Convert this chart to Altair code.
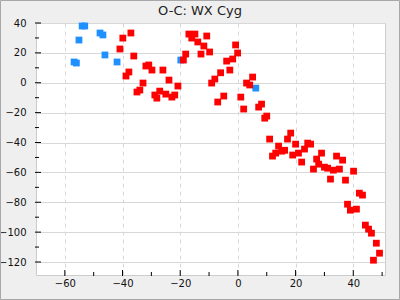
import altair as alt
import pandas as pd

# Blue series (x = cycle/epoch offset, y = O-C)
blue_x = [-56.8, -56.0, -55.1, -54.0, -53.1, -47.8, -46.8, -46.1, -41.9, -19.8, 6.2]
blue_y = [13.9, 13.2, 28.6, 38.0, 38.0, 33.3, 32.0, 18.6, 13.9, 15.2, -3.6]

# Red series
red_x = [-39.9, -37.1, -40.9, -36.1, -37.8, -38.8, -31.9, -30.9, -29.8, -26.0,
         -35.0, -34.0, -32.9, -28.8, -28.1, -27.1, -25.0, -23.9, -22.9, -21.9,
         -20.8, -18.9, -18.1, -17.0, -14.9, -16.0, -13.9, -12.8, -10.8, -11.8,
         -9.8, -0.8, -0.1, -3.9, -1.8, -2.8, -6.0, -8.0, -9.1, 5.1,
         3.0, 4.1, -4.9, -7.0, 1.0, 2.0, 8.2, 7.2, 10.0, 9.3,
         18.3, 11.0, 17.2, 14.1, 16.2, 15.2, 20.0, 24.2, 25.2, 23.1,
         13.1, 12.0, 19.0, 21.0, 22.1, 29.0, 27.3, 28.0, 26.2, 30.0,
         31.1, 34.2, 36.3, 33.1, 35.2, 40.1, 32.1, 37.3, 42.1, 43.2,
         38.0, 39.0, 41.1, 44.2, 45.3, 46.3, 48.0, 49.1, 47.0]
red_y = [29.9, 33.3, 22.6, 17.9, 7.2, 4.5, 11.2, 11.9, 8.5, 8.5,
         -6.2, -4.9, -0.2, -8.2, -10.3, -5.6, -7.6, 1.8, -9.6, -8.2,
         -2.2, 15.2, 19.2, 32.6, 32.6, 29.9, 27.3, 19.2, 31.3, 24.6,
         20.6, 25.3, 19.9, 14.5, 15.9, 8.5, 6.7, 2.5, -0.2, 3.8,
         -0.2, -1.5, -8.9, -12.9, -9.6, -17.6, -14.3, -16.3, -22.3, -23.7,
         -33.7, -37.7, -37.7, -42.4, -45.2, -45.8, -41.1, -40.4, -41.1, -44.4,
         -47.1, -49.1, -48.4, -47.1, -53.1, -47.1, -51.1, -54.5, -57.8, -56.5,
         -57.2, -49.1, -51.8, -58.5, -57.8, -59.2, -64.5, -65.2, -73.9, -75.2,
         -81.3, -85.3, -84.6, -95.3, -98.0, -100.7, -107.4, -114.1, -118.8]

title_text = "O-C: WX Cyg"
x_major = [-60, -40, -20, 0, 20, 40]
x_minor = [-50, -30, -10, 10, 30, 50]
y_major = [-120, -100, -80, -60, -40, -20, 0, 20, 40]
y_minor = [-110, -90, -70, -50, -30, -10, 10, 30]

W, H = 349, 252
xs = alt.Scale(domain=[-70, 51], nice=False, zero=False)
ys = alt.Scale(domain=[-128.7, 40], nice=False, zero=False)

df = pd.concat([
    pd.DataFrame({"x": blue_x, "y": blue_y, "s": "blue"}),
    pd.DataFrame({"x": red_x, "y": red_y, "s": "red"}),
])

x_axis = alt.Axis(values=x_major, title=None, ticks=False, domain=False,
                  gridDash=[4, 4], gridColor="#d8d8d8",
                  labelColor="#111", labelFontSize=10, labelFont="DejaVu Sans", labelPadding=3)
y_axis = alt.Axis(values=y_major, title=None, ticks=False, domain=False,
                  gridColor="#d8d8d8",
                  labelColor="#111", labelFontSize=10, labelFont="DejaVu Sans", labelPadding=10)

points = alt.Chart(df).mark_square(size=46, opacity=1).encode(
    x=alt.X("x:Q", scale=xs, axis=x_axis),
    y=alt.Y("y:Q", scale=ys, axis=y_axis),
    color=alt.Color("s:N", scale=alt.Scale(domain=["blue", "red"], range=["#1e90ff", "#ff0000"]), legend=None),
    order=alt.Order("s:N"),
)

def xticks(vals, length):
    return alt.Chart(pd.DataFrame({"x": vals})).mark_rule(color="#000", strokeWidth=1).encode(
        x=alt.X("x:Q", scale=xs, axis=x_axis), y=alt.value(H + 1), y2=alt.value(H - length))

def yticks(vals, length):
    return alt.Chart(pd.DataFrame({"y": vals})).mark_rule(color="#000", strokeWidth=1).encode(
        y=alt.Y("y:Q", scale=ys, axis=y_axis), x=alt.value(-1), x2=alt.value(length))

border = alt.Chart(pd.DataFrame({"a": [0]})).mark_rect(
    fill="transparent", stroke="#a8a8a8", strokeWidth=1).encode(
    x=alt.value(-35.5), x2=alt.value(363.5), y=alt.value(-22.5), y2=alt.value(276.5))

title = alt.Chart(pd.DataFrame({"t": [title_text]})).mark_text(
    fontSize=13, font="DejaVu Sans", color="#222", baseline="middle", align="center").encode(
    text="t:N", x=alt.value(164), y=alt.value(-12))

chart = alt.layer(
    points, xticks(x_major, 5), xticks(x_minor, 3), yticks(y_major, 5), yticks(y_minor, 3), border, title
).properties(
    width=W, height=H,
    autosize="none",
    padding={"left": 36, "top": 23, "right": 15, "bottom": 25},
).configure(background="#efefef").configure_view(fill="white", stroke="#cccccc")

chart.save("out.html", embed_options={"renderer": "svg", "actions": False})
